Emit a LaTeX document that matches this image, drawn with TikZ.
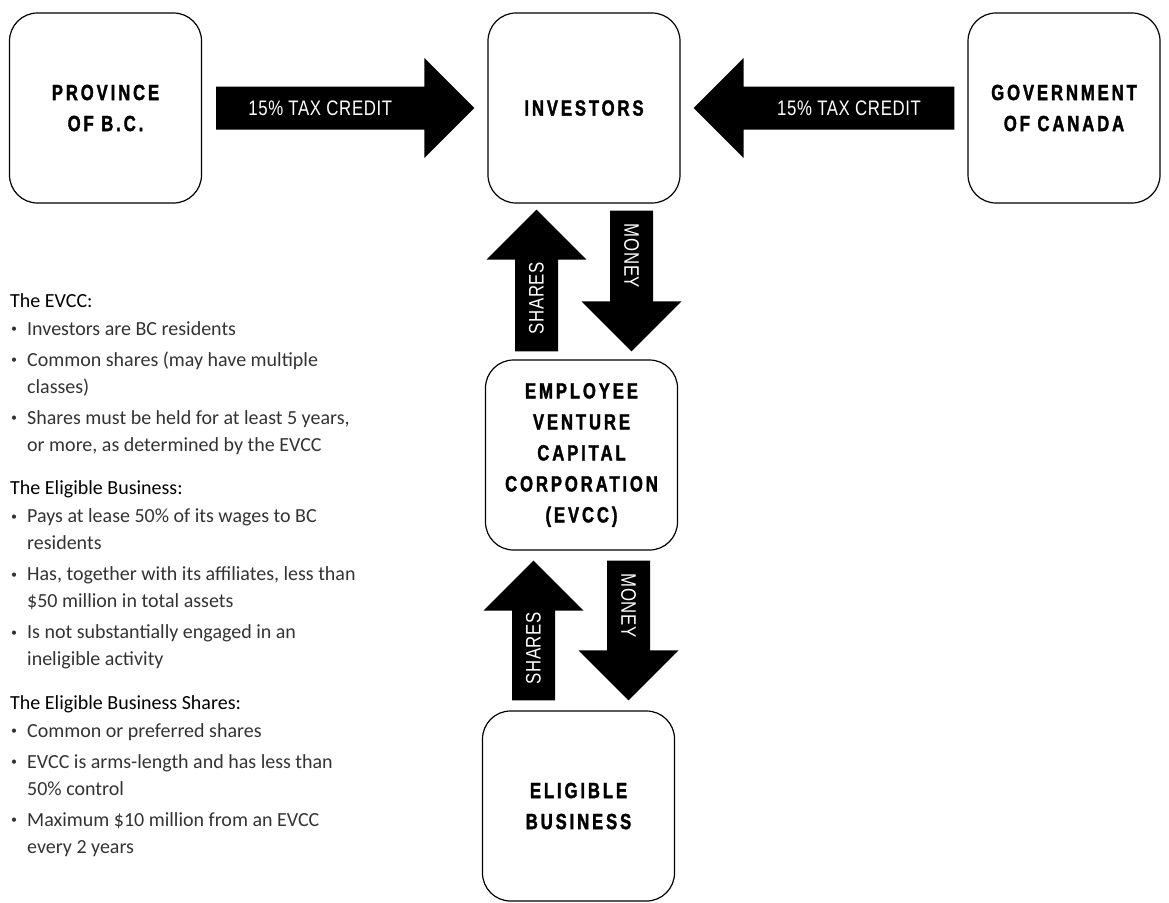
\documentclass[tikz,border=0pt]{standalone}
\usepackage{fontspec}
\setmainfont{Carlito}
\newfontfamily\boxfont{Liberation Sans}[FakeStretch=0.76,LetterSpace=13,FakeBold=1.6]
\newfontfamily\arrowfont{Liberation Sans}[FakeStretch=0.8,LetterSpace=3]
\usetikzlibrary{calc}

\newcommand{\bul}{\makebox[17pt][l]{\hspace{1pt}\raisebox{2.2pt}{\fontsize{12}{12}\selectfont\textbullet}}}
\newcommand{\cont}{\hspace*{17pt}}

\newcommand{\fatarrow}[6][0.5]{%
  \coordinate (#2 hb) at ($(#4)!50pt!(#3)$);
  \fill[black] ($(#3)!21.5pt!90:(#4)$) -- ($(#2 hb)!21.5pt!90:(#4)$) -- ($(#2 hb)!50pt!90:(#4)$) -- (#4)
    -- ($(#2 hb)!50pt!-90:(#4)$) -- ($(#2 hb)!21.5pt!-90:(#4)$) -- ($(#3)!21.5pt!-90:(#4)$) -- cycle;
  \node[arrowtext,rotate=#5] (#2) at ($(#3)!#1!(#2 hb)$) {#6};
}

\begin{document}
\begin{tikzpicture}[x=1pt,y=-1pt]
        \tikzstyle{box} = [rectangle, rounded corners=28pt, draw=black, line width=1.2pt, minimum width=192pt, minimum height=190pt, align=center, font=\boxfont\bfseries\fontsize{22}{31}\selectfont]
        \tikzstyle{arrowtext} = [text=white, inner sep=0pt, font=\arrowfont\fontsize{21}{21}\selectfont]
        \tikzstyle{notes} = [anchor=north west, align=left, inner sep=0pt, text=black!80, font=\fontsize{20}{27}\selectfont]
        \useasboundingbox (0,0) rectangle (1169,902);
        \node[box] (prov) at (105.5,108) {PROVINCE\\OF B.C.};
        \node[box] (inv) at (584,108) {INVESTORS};
        \node[box] (gov) at (1064,108) {GOVERNMENT\\OF CANADA};
        \node[box] (evcc) at (581.5,455) {EMPLOYEE\\VENTURE\\CAPITAL\\CORPORATION\\(EVCC)};
        \node[box] (elig) at (578.5,806) {ELIGIBLE\\BUSINESS};
        \coordinate (bc tail) at ($(prov.east)+(14,0)$);
        \coordinate (bc tip) at ($(bc tail -| inv.west)+(-13,0)$);
        \coordinate (ca tail) at ($(gov.west)+(-13,0)$);
        \coordinate (ca tip) at ($(ca tail -| inv.east)+(13,0)$);
        \coordinate (sh1 tail) at ($(evcc.north)+(-45,-8)$);
        \coordinate (sh1 tip) at ($(sh1 tail |- inv.south)+(0,6)$);
        \coordinate (mo1 tail) at ($(inv.south)+(47.5,7)$);
        \coordinate (mo1 tip) at ($(mo1 tail |- evcc.north)+(0,-8)$);
        \coordinate (sh2 tail) at ($(elig.north)+(-45,-10)$);
        \coordinate (sh2 tip) at ($(sh2 tail |- evcc.south)+(0,10)$);
        \coordinate (mo2 tail) at ($(evcc.south)+(47,10)$);
        \coordinate (mo2 tip) at ($(mo2 tail |- elig.north)+(0,-10)$);
        \fatarrow{bc}{bc tail}{bc tip}{0}{15\% TAX CREDIT}
        \fatarrow{ca}{ca tail}{ca tip}{0}{15\% TAX CREDIT}
        \fatarrow[0.58]{sh1}{sh1 tail}{sh1 tip}{90}{SHARES}
        \fatarrow{mo1}{mo1 tail}{mo1 tip}{-90}{MONEY}
        \fatarrow[0.58]{sh2}{sh2 tail}{sh2 tip}{90}{SHARES}
        \fatarrow{mo2}{mo2 tail}{mo2 tip}{-90}{MONEY}
        \node[notes] (evccnotes) at (10,293) {\textcolor{black}{The EVCC:}\\[1pt]
            \bul Investors are BC residents\\[4pt]
            \bul Common shares (may have multiple\\
            \cont classes)\\[4pt]
            \bul Shares must be held for at least 5 years,\\
            \cont or more, as determined by the EVCC};
        \node[notes] (busnotes) at (10,480.5) {\textcolor{black}{The Eligible Business:}\\[1pt]
            \bul Pays at lease 50\% of its wages to BC\\
            \cont residents\\[4pt]
            \bul Has, together with its affiliates, less than\\
            \cont \$50 million in total assets\\[4pt]
            \bul Is not substantially engaged in an\\
            \cont ineligible activity};
        \node[notes] (sharenotes) at (10,695) {\textcolor{black}{The Eligible Business Shares:}\\[1pt]
            \bul Common or preferred shares\\[4pt]
            \bul EVCC is arms-length and has less than\\
            \cont 50\% control\\[4pt]
            \bul Maximum \$10 million from an EVCC\\
            \cont every 2 years};
\end{tikzpicture}
\end{document}
